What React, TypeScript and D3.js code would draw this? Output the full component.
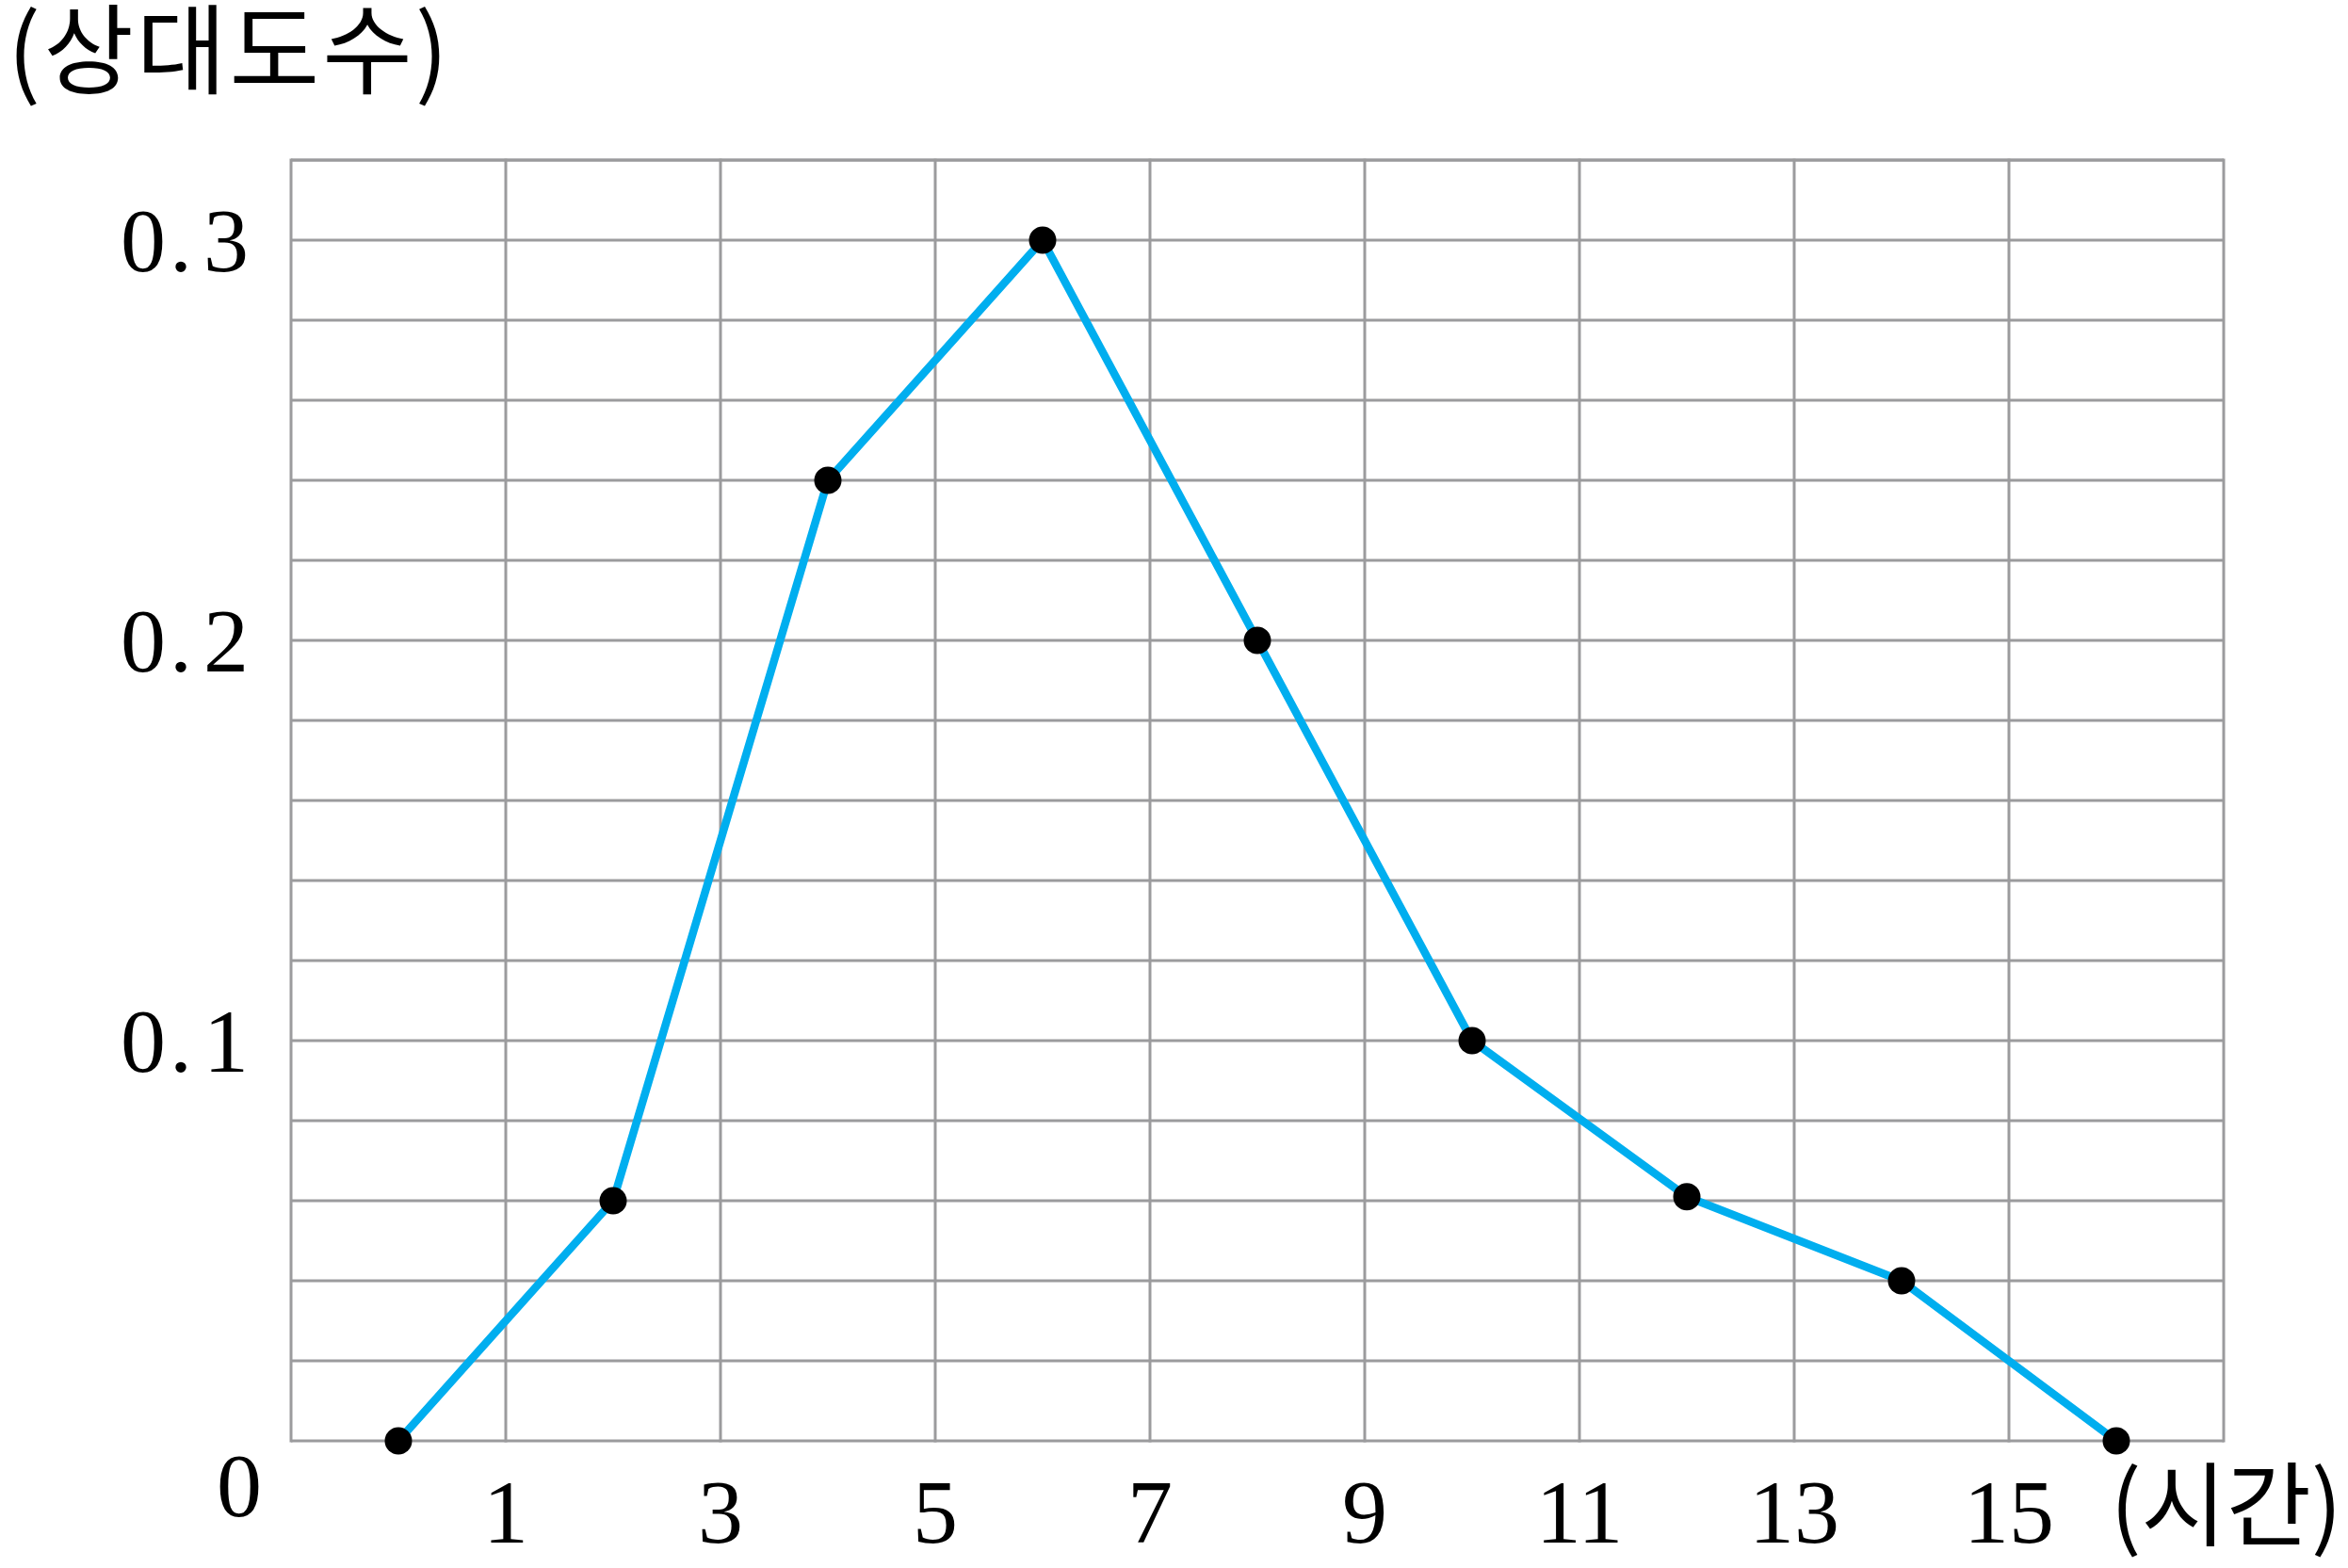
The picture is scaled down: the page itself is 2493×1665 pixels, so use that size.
import React from "react";
import * as d3 from "d3";

const hours = [0, 2, 4, 6, 8, 10, 12, 14, 16];
const relFreq = [0, 0.06, 0.24, 0.3, 0.2, 0.1, 0.061, 0.04, 0];
const xTickValues = [1, 3, 5, 7, 9, 11, 13, 15];
const yTickValues = [0.1, 0.2, 0.3];
const yTickLabels = ["1", "2", "3"];
const xGridValues = [-1, 1, 3, 5, 7, 9, 11, 13, 15, 17];
const yGridValues = d3.range(0, 17).map((i) => i * 0.02);
const yTitle = "(상대도수)";
const xTitle = "(시간)";

const W = 2493;
const H = 1665;

export default function App() {
  const x = d3.scaleLinear().domain([-1, 17]).range([309, 2361]);
  const y = d3.scaleLinear().domain([0, 0.32]).range([1530, 170]);
  const pts = hours.map((h, i) => [h, relFreq[i]] as [number, number]);
  const line = d3
    .line<[number, number]>()
    .x((d) => x(d[0]))
    .y((d) => y(d[1]));
  const gridColor = "#9b9b9d";
  const numFont = "'Liberation Serif', 'DejaVu Serif', serif";
  const krFont = "'Noto Sans CJK KR', sans-serif";
  return (
    <svg
      width={W}
      height={H}
      style={{ position: "absolute", left: 0, top: 0, display: "block", background: "#fff" }}
    >
      <rect x={0} y={0} width={W} height={H} fill="#fff" />
      {yGridValues.map((v, i) => (
        <line
          key={"h" + i}
          x1={x(-1)}
          x2={x(17)}
          y1={y(v)}
          y2={y(v)}
          stroke={gridColor}
          strokeWidth={3}
        />
      ))}
      <line x1={x(-1)} x2={x(17)} y1={y(0.32)} y2={y(0.32)} stroke={gridColor} strokeWidth={3} />
      {xGridValues.map((v, i) => (
        <line
          key={"v" + i}
          x1={x(v)}
          x2={x(v)}
          y1={y(0.32) - 1.5}
          y2={y(0) + 1.5}
          stroke={gridColor}
          strokeWidth={3}
        />
      ))}
      <path d={line(pts) || ""} fill="none" stroke="#00aeef" strokeWidth={8.5} strokeLinejoin="round" />
      {pts.map((p, i) => (
        <circle key={"c" + i} cx={x(p[0])} cy={y(p[1])} r={14.5} fill="#000" />
      ))}
      {yTickValues.map((v, i) => (
        <text
          key={"yl" + i}
          x={264}
          y={y(v) + 33}
          textAnchor="end"
          fontFamily={numFont}
          fontSize={96}
          fill="#000"
        >
          0<tspan dx={4}>.</tspan>
          <tspan dx={12}>{yTickLabels[i]}</tspan>
        </text>
      ))}
      <text x={254} y={1610} textAnchor="middle" fontFamily={numFont} fontSize={96} fill="#000">
        0
      </text>
      {xTickValues.map((v, i) => (
        <text
          key={"xl" + i}
          x={x(v)}
          y={1638}
          textAnchor="middle"
          fontFamily={numFont}
          fontSize={96}
          fill="#000"
        >
          {v}
        </text>
      ))}
      <text x={8} y={92} fontFamily={krFont} fontSize={104} letterSpacing={3} fill="#000">
        {yTitle}
      </text>
      <text x={2487} y={1634} textAnchor="end" fontFamily={krFont} fontSize={98} fill="#000">
        {xTitle}
      </text>
    </svg>
  );
}
